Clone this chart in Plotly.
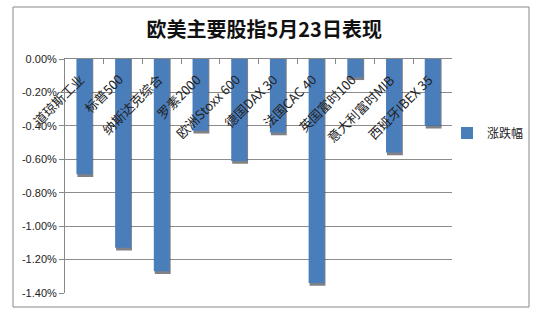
import plotly.graph_objects as go

categories = ["道琼斯工业", "标普500", "纳斯达克综合", "罗素2000", "欧洲Stoxx 600",
              "德国DAX 30", "法国CAC 40", "英国富时100", "意大利富时MIB", "西班牙IBEX 35"]
values = [-0.69, -1.13, -1.27, -0.43, -0.61, -0.44, -1.34, -0.11, -0.56, -0.40]
series_name = "涨跌幅"
y_ticks = [0, -0.2, -0.4, -0.6, -0.8, -1.0, -1.2, -1.4]
y_ticklabels = ["0.00%", "-0.20%", "-0.40%", "-0.60%", "-0.80%", "-1.00%", "-1.20%", "-1.40%"]

W, H = 541, 327
L, R, T, B = 65, 89, 59, 34
pw, ph = W - L - R, H - T - B

fig = go.Figure()
# subtle drop shadow under each bar
fig.add_trace(go.Bar(
    x=list(range(len(categories))), y=[v - 0.016 for v in values],
    width=0.41, offset=-0.18, marker=dict(color="rgba(60,60,70,0.65)", line_width=0),
    showlegend=False, hoverinfo="skip"))
fig.add_trace(go.Bar(
    x=list(range(len(categories))), y=values, name=series_name,
    width=0.41, marker=dict(color="#4a7ebb", line_width=0)))

annotations = []
for i, c in enumerate(categories):
    annotations.append(dict(
        x=i + 0.18, y=-0.05, xref="x", yref="y", text=c, showarrow=False,
        textangle=-45, xanchor="right", yanchor="top",
        font=dict(family="Noto Sans CJK SC", size=13, color="#222")))

def px_x(px):
    return (px - L) / pw

def px_y(py):
    return (H - B - py) / ph

fig.add_shape(type="rect", xref="paper", yref="paper",
              x0=px_x(13), x1=px_x(529), y0=px_y(307), y1=px_y(7),
              line=dict(color="#8a8a8a", width=1), fillcolor="rgba(0,0,0,0)")

fig.update_layout(
    width=W, height=H,
    margin=dict(l=L, r=R, t=T, b=B),
    paper_bgcolor="white", plot_bgcolor="white",
    barmode="overlay",
    title=dict(text="<b>欧美主要股指5月23日表现</b>", x=px_x(254), xanchor="center",
               y=1 - 30 / H, yanchor="middle",
               font=dict(family="Noto Sans CJK SC", size=20, color="#111")),
    xaxis=dict(range=[-0.5, len(categories) - 0.5], side="top", showline=True,
               linecolor="#888", linewidth=1, ticks="inside", ticklen=5, tickcolor="#888",
               tickvals=[i - 0.5 for i in range(len(categories) + 1)],
               showticklabels=False, showgrid=False, zeroline=False),
    yaxis=dict(range=[-1.4, 0], tickvals=y_ticks, ticktext=y_ticklabels,
               showline=True, linecolor="#888", linewidth=1, ticks="outside",
               ticklen=5, tickcolor="#888", showgrid=True, gridcolor="#8c8c8c",
               gridwidth=1, zeroline=False,
               tickfont=dict(family="Liberation Sans", size=11, color="#222")),
    legend=dict(x=px_x(447), y=px_y(133), xanchor="left", yanchor="middle",
                font=dict(family="Noto Sans CJK SC", size=12, color="#222"),
                bgcolor="rgba(0,0,0,0)", itemwidth=30),
    annotations=annotations,
    showlegend=True,
)

fig.write_html("out.html")
